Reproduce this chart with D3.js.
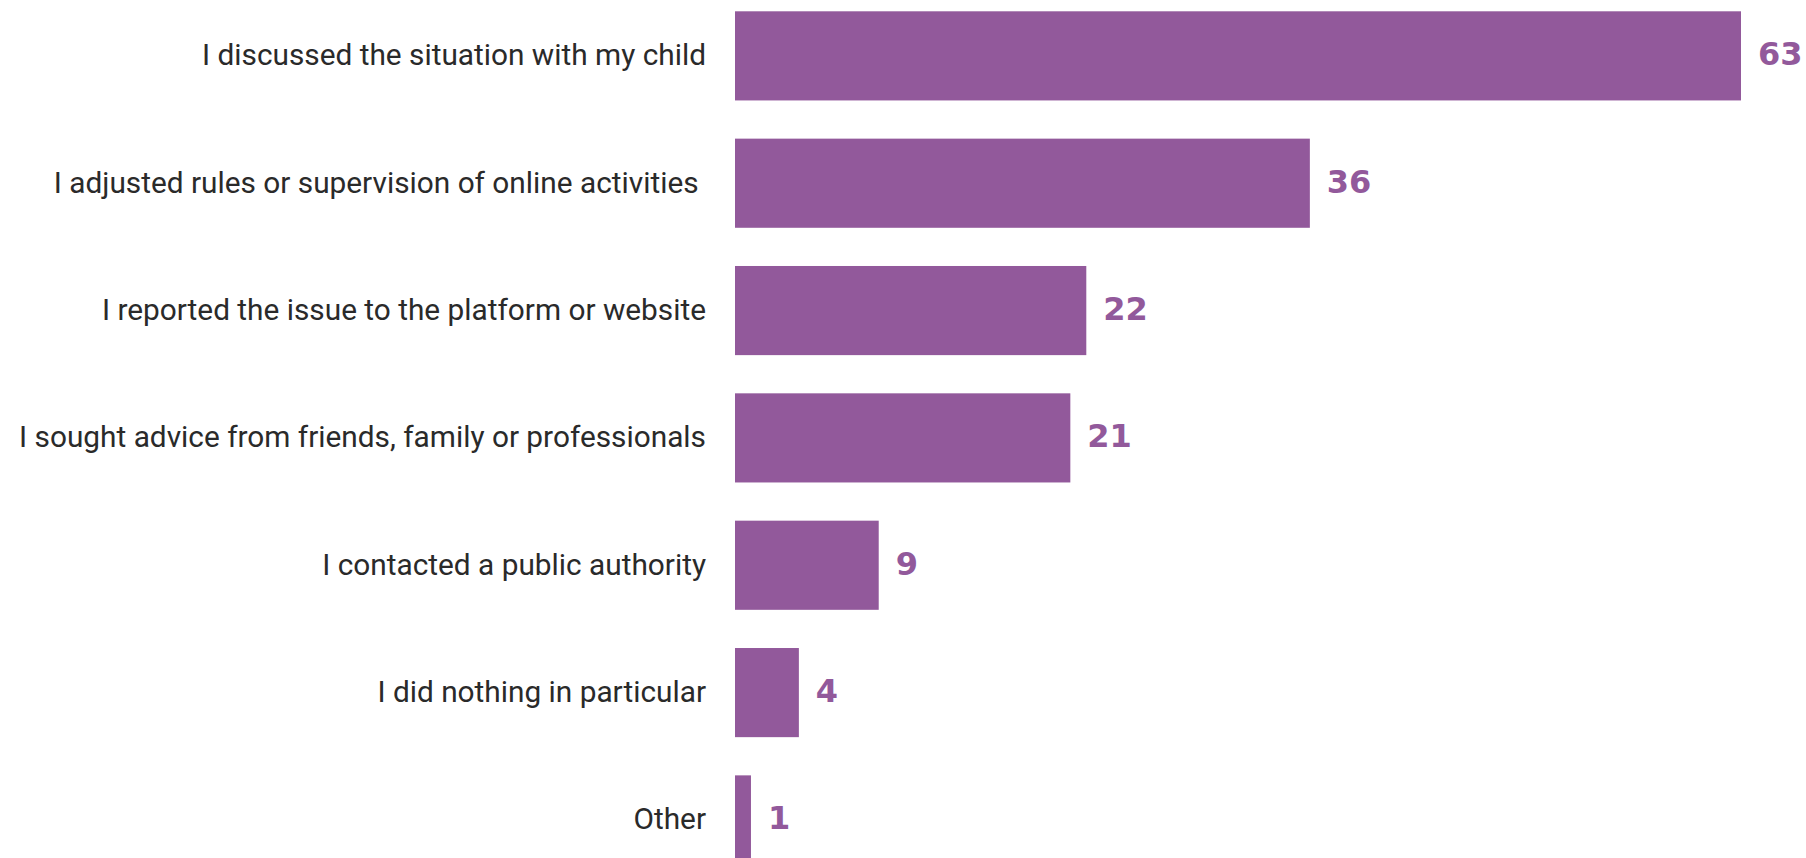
<!DOCTYPE html>
<html>
<head>
<meta charset="utf-8">
<script src="https://cdn.jsdelivr.net/npm/d3@7"></script>
<style>
  html, body { margin: 0; padding: 0; background: #ffffff; }
  svg { display: block; }
  .cat { font-family: Roboto, "Open Sans", sans-serif; font-size: 29.8px; font-weight: 400; fill: #2a2a2a; white-space: pre; }
  .val { font-family: "DejaVu Sans", sans-serif; font-size: 32px; font-weight: 700; fill: #92599b; }
</style>
</head>
<body>
<svg id="chart" width="1806" height="858"></svg>
<script>
// Responses, in percent
const categories = [
  "I discussed the situation with my child",
  "I adjusted rules or supervision of online activities ",
  "I reported the issue to the platform or website",
  "I sought advice from friends, family or professionals",
  "I contacted a public authority",
  "I did nothing in particular",
  "Other"
];
const values = [63, 36, 22, 21, 9, 4, 1];

const barLeft = 735, barRight = 1741;
const barColor = "#92599b";

const svg = d3.select("#chart");

const x = d3.scaleLinear()
  .domain([0, d3.max(values)])
  .range([barLeft, barRight]);

const y = d3.scaleBand()
  .domain(categories)
  .range([11.3, 864.5])
  .paddingInner(0.3)
  .paddingOuter(0);

const rows = categories.map((c, i) => ({ cat: c, val: values[i] }));

// Bars
svg.append("g")
  .selectAll("rect")
  .data(rows)
  .join("rect")
    .attr("x", x(0))
    .attr("y", d => y(d.cat))
    .attr("width", d => x(d.val) - x(0))
    .attr("height", y.bandwidth())
    .attr("fill", barColor);

// Category labels, right-aligned to the left of the bars
svg.append("g")
  .selectAll("text")
  .data(rows)
  .join("text")
    .attr("class", "cat")
    .attr("x", 706)
    .attr("y", d => y(d.cat) + y.bandwidth() / 2 + 9.5)
    .attr("text-anchor", "end")
    .text(d => d.cat);

// Value labels at the end of each bar
svg.append("g")
  .selectAll("text")
  .data(rows)
  .join("text")
    .attr("class", "val")
    .attr("x", d => x(d.val) + 17)
    .attr("y", d => y(d.cat) + y.bandwidth() / 2 + 9.5)
    .text(d => d.val);
</script>
</body>
</html>
